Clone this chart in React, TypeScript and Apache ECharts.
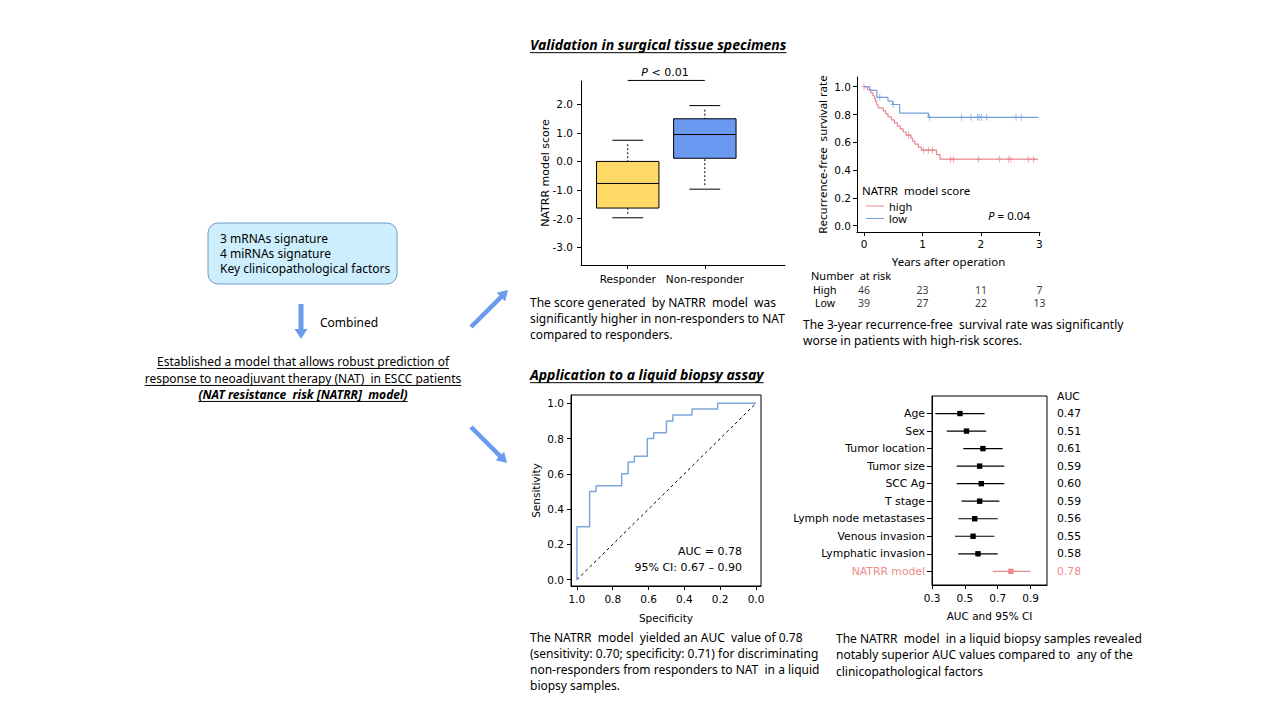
import React, { useEffect, useRef } from "react";
import * as echarts from "echarts";

// ---------- Data ----------
const boxCategories = ["Responder", "Non-responder"];
const boxMin = [-1.97, -0.97];
const boxQ1 = [-1.63, 0.11];
const boxMedian = [-0.77, 0.94];
const boxQ3 = [0.0, 1.49];
const boxMax = [0.74, 1.95];
const boxTicks = [-3, -2, -1, 0, 1, 2];

const kmHighTimes = [0, 0.06, 0.11, 0.15, 0.18, 0.2, 0.22, 0.24, 0.33, 0.37, 0.41, 0.47, 0.52, 0.57, 0.62, 0.67, 0.72, 0.8, 0.83, 0.87, 0.93, 0.98, 1.24, 1.3, 2.98];
const kmHighSurv = [1.0, 0.978, 0.957, 0.935, 0.913, 0.891, 0.87, 0.848, 0.826, 0.804, 0.783, 0.761, 0.739, 0.717, 0.696, 0.674, 0.652, 0.63, 0.609, 0.587, 0.565, 0.543, 0.511, 0.478, 0.478];
const kmLowTimes = [0, 0.1, 0.22, 0.41, 0.49, 0.61, 1.1, 2.98];
const kmLowSurv = [1.0, 0.974, 0.923, 0.897, 0.872, 0.81, 0.78, 0.78];
const censorHighTimes = [0.0, 0.76, 1.02, 1.1, 1.17, 1.48, 1.53, 1.96, 2.32, 2.47, 2.51, 2.81, 2.9];
const censorHighSurv = [1.0, 0.652, 0.543, 0.543, 0.543, 0.478, 0.478, 0.478, 0.478, 0.478, 0.478, 0.478, 0.478];
const censorLowTimes = [0.27, 0.5, 1.12, 1.67, 1.83, 1.94, 1.97, 2.01, 2.1, 2.6, 2.69];
const censorLowSurv = [0.923, 0.872, 0.78, 0.78, 0.78, 0.78, 0.78, 0.78, 0.78, 0.78, 0.78];
const kmYears = [0, 1, 2, 3];
const kmYTicks = [0, 0.2, 0.4, 0.6, 0.8, 1.0];
const riskGroups = ["High", "Low"];
const riskHigh = [46, 23, 11, 7];
const riskLow = [39, 27, 22, 13];

const rocSpecificity = [1, 1, 0.929, 0.929, 0.893, 0.893, 0.75, 0.75, 0.714, 0.714, 0.679, 0.679, 0.607, 0.607, 0.571, 0.571, 0.5, 0.5, 0.464, 0.464, 0.357, 0.357, 0.214, 0.214, 0];
const rocSensitivity = [0, 0.3, 0.3, 0.5, 0.5, 0.533, 0.533, 0.6, 0.6, 0.667, 0.667, 0.7, 0.7, 0.8, 0.8, 0.833, 0.833, 0.9, 0.9, 0.933, 0.933, 0.967, 0.967, 1, 1];
const rocTicks = [0, 0.2, 0.4, 0.6, 0.8, 1.0];

const forestNames = ["Age", "Sex", "Tumor location", "Tumor size", "SCC Ag", "T stage", "Lymph node metastases", "Venous invasion", "Lymphatic invasion", "NATRR model"];
const forestAuc = [0.47, 0.51, 0.61, 0.59, 0.6, 0.59, 0.56, 0.55, 0.58, 0.78];
const forestLow = [0.32, 0.39, 0.49, 0.45, 0.45, 0.48, 0.46, 0.44, 0.46, 0.67];
const forestHigh = [0.62, 0.63, 0.73, 0.74, 0.74, 0.71, 0.7, 0.68, 0.7, 0.9];
const forestTicks = [0.3, 0.5, 0.7, 0.9];

// ---------- Style ----------
const BODY = '"Noto Sans", sans-serif';
const CHART = '"DejaVu Sans", sans-serif';
const PINK = "#E8878F";
const BLUE_KM = "#729FDB";
const ROC_BLUE = "#7EA6DC";
const ARROW = "#6A9BEE";
const BOX_COLORS = ["#FFD966", "#6A99F2"];
const FOREST_PINK = "#EE8A8A";

function measure(text: string, font: string): number {
  const c = document.createElement("canvas").getContext("2d");
  if (!c) return text.length * 6;
  c.font = font;
  return c.measureText(text).width;
}

function txt(text: string, x: number, y: number, font: string, align = "left", fill = "#000", extra: any = {}) {
  return {
    type: "text",
    silent: true,
    style: {
      text, x, y, font, fill,
      textAlign: align, align,
      textVerticalAlign: "middle", verticalAlign: "middle",
      ...extra,
    },
  };
}

function underlined(text: string, x: number, y: number, font: string, size: number, align = "left") {
  const w = measure(text, font);
  let x0 = x;
  if (align === "center") x0 = x - w / 2;
  if (align === "right") x0 = x - w;
  return [
    txt(text, x, y, font, align),
    { type: "line", silent: true, shape: { x1: x0, y1: y + size * 0.62, x2: x0 + w, y2: y + size * 0.62 }, style: { stroke: "#000", lineWidth: 1 } },
  ];
}

function arrowPoints(tx: number, ty: number, hx: number, hy: number, sw: number, hw: number, hl: number) {
  const dx = hx - tx, dy = hy - ty;
  const L = Math.hypot(dx, dy);
  const ux = dx / L, uy = dy / L;
  const px = -uy, py = ux;
  const bx = hx - ux * hl, by = hy - uy * hl;
  return [
    [tx + (px * sw) / 2, ty + (py * sw) / 2],
    [bx + (px * sw) / 2, by + (py * sw) / 2],
    [bx + (px * hw) / 2, by + (py * hw) / 2],
    [hx, hy],
    [bx - (px * hw) / 2, by - (py * hw) / 2],
    [bx - (px * sw) / 2, by - (py * sw) / 2],
    [tx - (px * sw) / 2, ty - (py * sw) / 2],
  ];
}

const axisBase = (extra: any = {}) => ({
  type: "value",
  nameMoveOverlap: false,
  axisLine: { show: true, onZero: false, lineStyle: { color: "#000", width: 1 } },
  axisTick: { show: true, length: 4, lineStyle: { color: "#000" } },
  axisLabel: { color: "#000", fontFamily: CHART, fontSize: 10.5 },
  splitLine: { show: false },
  nameTextStyle: { color: "#000", fontFamily: CHART, fontSize: 10.5 },
  ...extra,
});

export default function App() {
  const ref = useRef<HTMLDivElement>(null);
  useEffect(() => {
    if (!ref.current) return;
    const chart = echarts.init(ref.current, null, { renderer: "svg" });

    const boxData = boxCategories.map((_, i) => [i + 1, boxMin[i], boxQ1[i], boxMedian[i], boxQ3[i], boxMax[i], i]);
    const forestData = forestNames.map((_, i) => [i, forestAuc[i], forestLow[i], forestHigh[i], i === forestNames.length - 1 ? 1 : 0]);
    const riskData: any[] = [];
    kmYears.forEach((yr, i) => {
      riskData.push([yr, 0.25, riskHigh[i]]);
      riskData.push([yr, 0.75, riskLow[i]]);
    });
    const plusSymbol = "path://M5,0L5,10M0,5L10,5";

    const f12 = `12px ${BODY}`;
    const titleFont = `italic bold 14px ${BODY}`;
    const tight = { lineHeight: 11 };
    const graphics: any[] = [];
    // titles
    graphics.push(...underlined("Validation in surgical tissue specimens", 530, 44, titleFont, 14));
    graphics.push(...underlined("Application to a liquid biopsy assay", 530, 374, titleFont, 14));
    // left block
    graphics.push({
      type: "rect", silent: true,
      shape: { x: 208, y: 223, width: 189, height: 61, r: 10 },
      style: { fill: "#CDEFFD", stroke: "#6E9CC6", lineWidth: 1 },
    });
    ["3 mRNAs signature", "4 miRNAs signature", "Key clinicopathological factors"].forEach((t, i) =>
      graphics.push(txt(t, 220, 238 + i * 15, f12))
    );
    graphics.push({ type: "polygon", silent: true, shape: { points: arrowPoints(301, 304, 301, 339, 5, 13, 10) }, style: { fill: ARROW } });
    graphics.push(txt("Combined", 320, 322, f12));
    graphics.push(...underlined("Established a model that allows robust prediction of", 303, 361, f12, 12, "center"));
    graphics.push(...underlined("response to neoadjuvant therapy (NAT)  in ESCC patients", 303, 378, f12, 12, "center"));
    graphics.push(...underlined("(NAT resistance  risk [NATRR]  model)", 303, 394, `italic bold 12px ${BODY}`, 12, "center"));
    graphics.push({ type: "polygon", silent: true, shape: { points: arrowPoints(471, 327, 508, 290, 4.5, 12, 10) }, style: { fill: ARROW } });
    graphics.push({ type: "polygon", silent: true, shape: { points: arrowPoints(471, 427, 507, 463, 4.5, 12, 10) }, style: { fill: ARROW } });
    // box annotations
    graphics.push({
      type: "text", silent: true,
      style: {
        text: "{i|P} < 0.01", x: 665, y: 72, textAlign: "center", align: "center",
        textVerticalAlign: "middle", verticalAlign: "middle",
        font: `11px ${CHART}`, fill: "#000",
        rich: { i: { fontStyle: "italic", fontFamily: CHART, fontSize: 11 } },
      },
    });
    ["The score generated  by NATRR  model  was", "significantly higher in non-responders to NAT", "compared to responders."].forEach((t, i) =>
      graphics.push(txt(t, 530, 302 + i * 16, f12))
    );
    // KM legend & annotations
    graphics.push(txt("NATRR  model score", 862, 190, `11.5px ${BODY}`));
    graphics.push({ type: "line", silent: true, shape: { x1: 866, y1: 206, x2: 884, y2: 206 }, style: { stroke: PINK, lineWidth: 1 } });
    graphics.push({ type: "line", silent: true, shape: { x1: 866, y1: 218.5, x2: 884, y2: 218.5 }, style: { stroke: BLUE_KM, lineWidth: 1 } });
    graphics.push(txt("high", 889, 206, `11px ${BODY}`, "left", "#000", tight));
    graphics.push(txt("low", 889, 218.5, `11px ${BODY}`, "left", "#000", tight));
    graphics.push({
      type: "text", silent: true,
      style: {
        text: "{i|P} = 0.04", x: 1030, y: 215, textAlign: "right", align: "right",
        textVerticalAlign: "middle", verticalAlign: "middle",
        font: `11.5px ${BODY}`, fill: "#000",
        rich: { i: { fontStyle: "italic", fontFamily: BODY, fontSize: 11.5 } },
      },
    });
    graphics.push(txt("Number  at risk", 811, 275, `11px ${BODY}`));
    graphics.push(txt(riskGroups[0], 813, 290, `10.5px ${BODY}`, "left", "#000", tight));
    graphics.push(txt(riskGroups[1], 815, 302.5, `10.5px ${BODY}`, "left", "#000", tight));
    ["The 3-year recurrence-free  survival rate was significantly", "worse in patients with high-risk scores."].forEach((t, i) =>
      graphics.push(txt(t, 803, 324 + i * 16, f12))
    );
    // ROC annotations
    graphics.push(txt("AUC = 0.78", 742, 551, `11px ${CHART}`, "right"));
    graphics.push(txt("95% CI: 0.67 \u2013 0.90", 742, 567, `11px ${CHART}`, "right"));
    [
      "The NATRR  model  yielded an AUC  value of 0.78",
      "(sensitivity: 0.70; specificity: 0.71) for discriminating",
      "non-responders from responders to NAT  in a liquid",
      "biopsy samples.",
    ].forEach((t, i) => graphics.push(txt(t, 530, 637 + i * 16.3, f12)));
    [
      "The NATRR  model  in a liquid biopsy samples revealed",
      "notably superior AUC values compared to  any of the",
      "clinicopathological factors",
    ].forEach((t, i) => graphics.push(txt(t, 836, 638 + i * 16.5, f12)));

    const option: any = {
      animation: false,
      backgroundColor: "#fff",
      textStyle: { fontFamily: CHART },
      grid: [
        { left: 581, top: 81, width: 204, height: 184, outerBoundsMode: "none" },
        { left: 857, top: 77, width: 183, height: 155, outerBoundsMode: "none" },
        { left: 571, top: 395, width: 190, height: 191, show: true, borderColor: "#000", borderWidth: 1, outerBoundsMode: "none" },
        { left: 932, top: 396, width: 115, height: 189, show: true, borderColor: "#000", borderWidth: 1, outerBoundsMode: "none" },
        { left: 857, top: 283.75, width: 183, height: 25, outerBoundsMode: "none" },
      ],
      xAxis: [
        axisBase({
          gridIndex: 0, min: 0.394, max: 3.04,
          axisTick: { show: true, length: 4, customValues: [1, 2], lineStyle: { color: "#000" } },
          axisLabel: { color: "#000", fontFamily: CHART, fontSize: 10.5, margin: 8, customValues: [1, 2], formatter: (v: number) => boxCategories[Math.round(v) - 1] },
        }),
        axisBase({
          gridIndex: 1, min: -0.12, max: 3.01,
          name: "Years after operation", nameLocation: "middle", nameGap: 23,
          nameTextStyle: { color: "#000", fontFamily: BODY, fontSize: 11.5 },
          axisTick: { show: true, length: 4, customValues: kmYears, lineStyle: { color: "#000" } },
          axisLabel: { color: "#000", fontFamily: CHART, fontSize: 10.5, margin: 6, customValues: kmYears, formatter: (v: number) => String(v) },
        }),
        axisBase({
          gridIndex: 2, min: -0.028, max: 1.033, inverse: true,
          name: "Specificity", nameLocation: "middle", nameGap: 26,
          axisTick: { show: true, length: 4, customValues: rocTicks, lineStyle: { color: "#000" } },
          axisLabel: { color: "#000", fontFamily: CHART, fontSize: 10.5, margin: 7, customValues: rocTicks, formatter: (v: number) => v.toFixed(1) },
        }),
        axisBase({
          gridIndex: 3, min: 0.3, max: 1.0,
          name: "AUC and 95% CI", nameLocation: "middle", nameGap: 25,
          axisTick: { show: true, length: 4, customValues: forestTicks, lineStyle: { color: "#000" } },
          axisLabel: { color: "#000", fontFamily: CHART, fontSize: 10.5, margin: 7, customValues: forestTicks, formatter: (v: number) => v.toFixed(1) },
        }),
        { type: "value", gridIndex: 4, min: -0.12, max: 3.01, show: false },
      ],
      yAxis: [
        axisBase({
          gridIndex: 0, min: -3.62, max: 2.81,
          name: "NATRR model score", nameLocation: "middle", nameGap: 30, nameRotate: 90,
          nameTextStyle: { color: "#000", fontFamily: CHART, fontSize: 11 },
          axisTick: { show: true, length: 4, customValues: boxTicks, lineStyle: { color: "#000" } },
          axisLabel: { color: "#000", fontFamily: CHART, fontSize: 10.5, margin: 8, customValues: boxTicks, formatter: (v: number) => v.toFixed(1) },
        }),
        axisBase({
          gridIndex: 1, min: -0.046, max: 1.07,
          name: "Recurrence-free  survival rate", nameLocation: "middle", nameGap: 29, nameRotate: 90,
          nameTextStyle: { color: "#000", fontFamily: BODY, fontSize: 11.5 },
          axisTick: { show: true, length: 4, customValues: kmYTicks, lineStyle: { color: "#000" } },
          axisLabel: { color: "#000", fontFamily: CHART, fontSize: 10.5, margin: 6, customValues: kmYTicks, formatter: (v: number) => v.toFixed(1) },
        }),
        axisBase({
          gridIndex: 2, min: -0.036, max: 1.047,
          name: "Sensitivity", nameLocation: "middle", nameGap: 30, nameRotate: 90,
          axisTick: { show: true, length: 4, customValues: rocTicks, lineStyle: { color: "#000" } },
          axisLabel: { color: "#000", fontFamily: CHART, fontSize: 10.5, margin: 7, customValues: rocTicks, formatter: (v: number) => v.toFixed(1) },
        }),
        axisBase({
          gridIndex: 3, min: -1, max: 9.78, inverse: true,
          axisTick: { show: true, length: 5, customValues: forestNames.map((_, i) => i), lineStyle: { color: "#000" } },
          axisLabel: {
            color: "#000", fontFamily: CHART, fontSize: 10.8, margin: 7,
            customValues: forestNames.map((_, i) => i),
            formatter: (v: number) => (v === forestNames.length - 1 ? `{p|${forestNames[v]}}` : forestNames[Math.round(v)]),
            rich: { p: { color: FOREST_PINK, fontFamily: CHART, fontSize: 10.8 } },
          },
        }),
        {
          type: "value", gridIndex: 3, min: -1, max: 9.78, inverse: true, position: "right",
          axisLine: { show: false }, axisTick: { show: false }, splitLine: { show: false },
          axisLabel: {
            color: "#000", fontFamily: CHART, fontSize: 10.8, margin: 10, align: "left",
            customValues: [-1, ...forestNames.map((_, i) => i)],
            formatter: (v: number) => {
              if (v < 0) return "AUC";
              const s = forestAuc[Math.round(v)].toFixed(2);
              return v === forestNames.length - 1 ? `{p|${s}}` : s;
            },
            rich: { p: { color: FOREST_PINK, fontFamily: CHART, fontSize: 10.8 } },
          },
        },
        { type: "value", gridIndex: 4, min: 0, max: 1, inverse: true, show: false },
      ],
      series: [
        {
          type: "custom", xAxisIndex: 0, yAxisIndex: 0, data: boxData, clip: false,
          renderItem: (_p: any, api: any) => {
            const x = api.value(0), mn = api.value(1), q1 = api.value(2), md = api.value(3), q3 = api.value(4), mx = api.value(5), idx = api.value(6);
            const hw = 0.405, cw = 0.2;
            const tl = api.coord([x - hw, q3]);
            const br = api.coord([x + hw, q1]);
            const m1 = api.coord([x - hw, md]);
            const m2 = api.coord([x + hw, md]);
            const top = api.coord([x, mx]);
            const bot = api.coord([x, mn]);
            const ct1 = api.coord([x - cw, mx]), ct2 = api.coord([x + cw, mx]);
            const cb1 = api.coord([x - cw, mn]), cb2 = api.coord([x + cw, mn]);
            const dash = { stroke: "#000", lineWidth: 1, lineDash: [2, 2] };
            const solid = { stroke: "#000", lineWidth: 1 };
            return {
              type: "group",
              children: [
                { type: "line", shape: { x1: top[0], y1: top[1] + 4, x2: top[0], y2: tl[1] }, style: dash },
                { type: "line", shape: { x1: bot[0], y1: bot[1] - 4, x2: bot[0], y2: br[1] }, style: dash },
                { type: "line", shape: { x1: ct1[0], y1: ct1[1], x2: ct2[0], y2: ct2[1] }, style: solid },
                { type: "line", shape: { x1: cb1[0], y1: cb1[1], x2: cb2[0], y2: cb2[1] }, style: solid },
                { type: "rect", shape: { x: tl[0], y: tl[1], width: br[0] - tl[0], height: br[1] - tl[1] }, style: { fill: BOX_COLORS[idx], stroke: "#000", lineWidth: 1 } },
                { type: "line", shape: { x1: m1[0], y1: m1[1], x2: m2[0], y2: m2[1] }, style: solid },
              ],
            };
          },
        },
        {
          type: "line", xAxisIndex: 0, yAxisIndex: 0, clip: false, symbol: "none",
          data: [[1, 2.83], [2, 2.83]], lineStyle: { color: "#000", width: 1 },
        },
        {
          type: "line", xAxisIndex: 1, yAxisIndex: 1, step: "end", symbol: "none",
          data: kmHighTimes.map((t, i) => [t, kmHighSurv[i]]), lineStyle: { color: PINK, width: 1.2 },
        },
        {
          type: "line", xAxisIndex: 1, yAxisIndex: 1, step: "end", symbol: "none",
          data: kmLowTimes.map((t, i) => [t, kmLowSurv[i]]), lineStyle: { color: BLUE_KM, width: 1.2 },
        },
        {
          type: "scatter", xAxisIndex: 1, yAxisIndex: 1, symbol: plusSymbol, symbolSize: [5, 7],
          data: censorHighTimes.map((t, i) => [t, censorHighSurv[i]]),
          itemStyle: { color: "none", borderColor: PINK, borderWidth: 1 },
        },
        {
          type: "scatter", xAxisIndex: 1, yAxisIndex: 1, symbol: plusSymbol, symbolSize: [5, 7],
          data: censorLowTimes.map((t, i) => [t, censorLowSurv[i]]),
          itemStyle: { color: "none", borderColor: BLUE_KM, borderWidth: 1 },
        },
        {
          type: "scatter", xAxisIndex: 4, yAxisIndex: 5, symbolSize: 0, data: riskData,
          label: { show: true, position: "inside", formatter: (p: any) => String(p.value[2]), color: "#000", fontFamily: BODY, fontSize: 10.5, lineHeight: 11 },
        },
        {
          type: "line", xAxisIndex: 2, yAxisIndex: 2, symbol: "none",
          data: [[1, 0], [0, 1]], lineStyle: { color: "#000", width: 1, type: [3, 3] },
        },
        {
          type: "line", xAxisIndex: 2, yAxisIndex: 2, symbol: "none",
          data: rocSpecificity.map((s, i) => [s, rocSensitivity[i]]), lineStyle: { color: ROC_BLUE, width: 1.5 },
        },
        {
          type: "custom", xAxisIndex: 3, yAxisIndex: 3, data: forestData,
          renderItem: (_p: any, api: any) => {
            const row = api.value(0), auc = api.value(1), lo = api.value(2), hi = api.value(3), hl = api.value(4);
            const color = hl ? FOREST_PINK : "#000";
            const a = api.coord([lo, row]);
            const b = api.coord([hi, row]);
            const c = api.coord([auc, row]);
            return {
              type: "group",
              children: [
                { type: "line", shape: { x1: a[0], y1: a[1], x2: b[0], y2: b[1] }, style: { stroke: color, lineWidth: 1.2 } },
                { type: "rect", shape: { x: c[0] - 2.7, y: c[1] - 2.7, width: 5.4, height: 5.4 }, style: { fill: color } },
              ],
            };
          },
        },
      ],
      graphic: { elements: graphics },
    };
    chart.setOption(option);
    return () => chart.dispose();
  }, []);
  return <div ref={ref} style={{ position: "absolute", left: 0, top: 0, width: 1280, height: 720, background: "#fff" }} />;
}
